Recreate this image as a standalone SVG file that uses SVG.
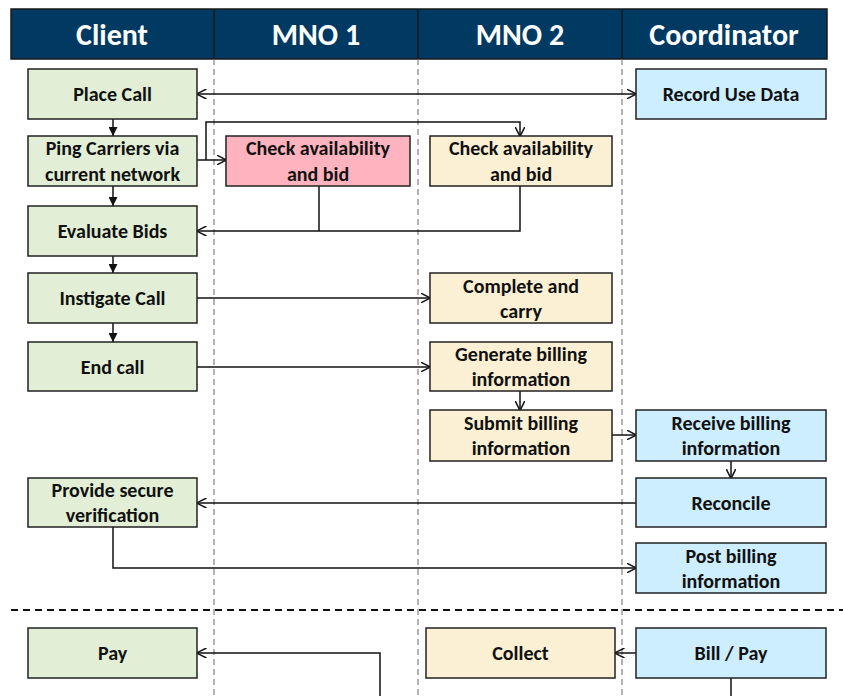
<svg xmlns="http://www.w3.org/2000/svg" width="843" height="696" viewBox="0 0 843 696">
<defs>
<style>
.hdr{fill:#003A63;stroke:#1a1a1a;stroke-width:1.5}
.ht{font-family:Carlito,Lato,"Liberation Sans",sans-serif;font-weight:bold;font-size:30px;fill:#fff;text-anchor:middle}
.lane{stroke:#666;stroke-width:1;stroke-dasharray:6,4}
.box{stroke:#222;stroke-width:1.5}
.g{fill:#E2EFD6}
.b{fill:#CCEEFF}
.y{fill:#FBF0D3}
.p{fill:#FFB3BE}
.t{font-family:Carlito,Lato,"Liberation Sans",sans-serif;font-weight:bold;font-size:20px;fill:#111;text-anchor:middle}
.c{fill:none;stroke:#111;stroke-width:1.5}
</style>
<marker id="open" viewBox="0 0 10 10" refX="9.5" refY="5" markerWidth="10" markerHeight="10" markerUnits="userSpaceOnUse" orient="auto-start-reverse">
<path d="M0,0 L10,5 L0,10" fill="none" stroke="#111" stroke-width="1.5"/>
</marker>
<marker id="fill" viewBox="0 0 10 10" refX="10" refY="5" markerWidth="9" markerHeight="9" markerUnits="userSpaceOnUse" orient="auto">
<path d="M0,0 L10,5 L0,10 z" fill="#111"/>
</marker>
</defs>
<rect width="843" height="696" fill="#fff"/>
<g id="header">
<rect class="hdr" x="11" y="9" width="816" height="50"/>
<line x1="214" y1="9" x2="214" y2="59" stroke="#1a1a1a" stroke-width="1.5"/>
<line x1="418" y1="9" x2="418" y2="59" stroke="#1a1a1a" stroke-width="1.5"/>
<line x1="622" y1="9" x2="622" y2="59" stroke="#1a1a1a" stroke-width="1.5"/>
<text class="ht" x="112" y="45">Client</text>
<text class="ht" x="316" y="45">MNO 1</text>
<text class="ht" x="520" y="45">MNO 2</text>
<text class="ht" x="724" y="45">Coordinator</text>
</g>
<g id="lanes">
<line class="lane" x1="214" y1="59" x2="214" y2="696"/>
<line class="lane" x1="418" y1="59" x2="418" y2="696"/>
<line class="lane" x1="622" y1="59" x2="622" y2="696"/>
<line x1="11" y1="610" x2="843" y2="610" stroke="#111" stroke-width="2" stroke-dasharray="7,5"/>
</g>
<g id="connectors">
<line class="c" x1="197" y1="94" x2="636" y2="94" marker-start="url(#open)" marker-end="url(#open)"/>
<line class="c" x1="113" y1="119" x2="113" y2="136" marker-end="url(#fill)"/>
<line class="c" x1="197" y1="160" x2="226" y2="160" marker-end="url(#open)"/>
<polyline class="c" points="206,160 206,122 520,122 520,136" marker-end="url(#open)"/>
<line class="c" x1="113" y1="186" x2="113" y2="206" marker-end="url(#fill)"/>
<line class="c" x1="319" y1="186" x2="319" y2="231"/>
<polyline class="c" points="520,186 520,231 197,231" marker-end="url(#open)"/>
<line class="c" x1="113" y1="256" x2="113" y2="273" marker-end="url(#fill)"/>
<line class="c" x1="197" y1="298" x2="430" y2="298" marker-end="url(#open)"/>
<line class="c" x1="113" y1="323" x2="113" y2="342" marker-end="url(#fill)"/>
<line class="c" x1="197" y1="367" x2="430" y2="367" marker-end="url(#open)"/>
<line class="c" x1="520" y1="391" x2="520" y2="410" marker-end="url(#open)"/>
<line class="c" x1="612" y1="435" x2="636" y2="435" marker-end="url(#open)"/>
<line class="c" x1="731" y1="461" x2="731" y2="478" marker-end="url(#open)"/>
<line class="c" x1="636" y1="503" x2="197" y2="503" marker-end="url(#open)"/>
<polyline class="c" points="113,527 113,568 636,568" marker-end="url(#open)"/>
<line class="c" x1="636" y1="653" x2="615" y2="653" marker-end="url(#open)"/>
<line class="c" x1="731" y1="678" x2="731" y2="696"/>
<polyline class="c" points="380,696 380,653 197,653" marker-end="url(#open)"/>
</g>
<g id="place-call"><rect class="box g" x="28" y="69" width="169" height="50"/><text class="t" x="112.5" y="101">Place Call</text></g>
<g id="record-use-data"><rect class="box b" x="636" y="69" width="190" height="50"/><text class="t" x="731" y="101">Record Use Data</text></g>
<g id="ping-carriers"><rect class="box g" x="28" y="136" width="169" height="50"/><text class="t" x="112.5" y="155">Ping Carriers via</text><text class="t" x="112.5" y="181">current network</text></g>
<g id="check-mno1"><rect class="box p" x="226" y="136" width="184" height="50"/><text class="t" x="318" y="155">Check availability</text><text class="t" x="318" y="181">and bid</text></g>
<g id="check-mno2"><rect class="box y" x="430" y="136" width="182" height="50"/><text class="t" x="521" y="155">Check availability</text><text class="t" x="521" y="181">and bid</text></g>
<g id="evaluate-bids"><rect class="box g" x="28" y="206" width="169" height="50"/><text class="t" x="112.5" y="238">Evaluate Bids</text></g>
<g id="instigate-call"><rect class="box g" x="28" y="273" width="169" height="50"/><text class="t" x="112.5" y="305">Instigate Call</text></g>
<g id="complete-carry"><rect class="box y" x="430" y="273" width="182" height="50"/><text class="t" x="521" y="293">Complete and</text><text class="t" x="521" y="318">carry</text></g>
<g id="end-call"><rect class="box g" x="28" y="342" width="169" height="49"/><text class="t" x="112.5" y="374">End call</text></g>
<g id="generate-billing"><rect class="box y" x="430" y="342" width="182" height="49"/><text class="t" x="521" y="361">Generate billing</text><text class="t" x="521" y="386">information</text></g>
<g id="submit-billing"><rect class="box y" x="430" y="410" width="182" height="51"/><text class="t" x="521" y="430">Submit billing</text><text class="t" x="521" y="455">information</text></g>
<g id="receive-billing"><rect class="box b" x="636" y="410" width="190" height="51"/><text class="t" x="731" y="430">Receive billing</text><text class="t" x="731" y="455">information</text></g>
<g id="provide-verification"><rect class="box g" x="28" y="478" width="169" height="49"/><text class="t" x="112.5" y="497">Provide secure</text><text class="t" x="112.5" y="522">verification</text></g>
<g id="reconcile"><rect class="box b" x="636" y="478" width="190" height="49"/><text class="t" x="731" y="510">Reconcile</text></g>
<g id="post-billing"><rect class="box b" x="636" y="543" width="190" height="50"/><text class="t" x="731" y="563">Post billing</text><text class="t" x="731" y="588">information</text></g>
<g id="pay"><rect class="box g" x="28" y="628" width="169" height="50"/><text class="t" x="112.5" y="660">Pay</text></g>
<g id="collect"><rect class="box y" x="426" y="628" width="189" height="50"/><text class="t" x="520.5" y="660">Collect</text></g>
<g id="bill-pay"><rect class="box b" x="636" y="628" width="190" height="50"/><text class="t" x="731" y="660">Bill / Pay</text></g>
</svg>
